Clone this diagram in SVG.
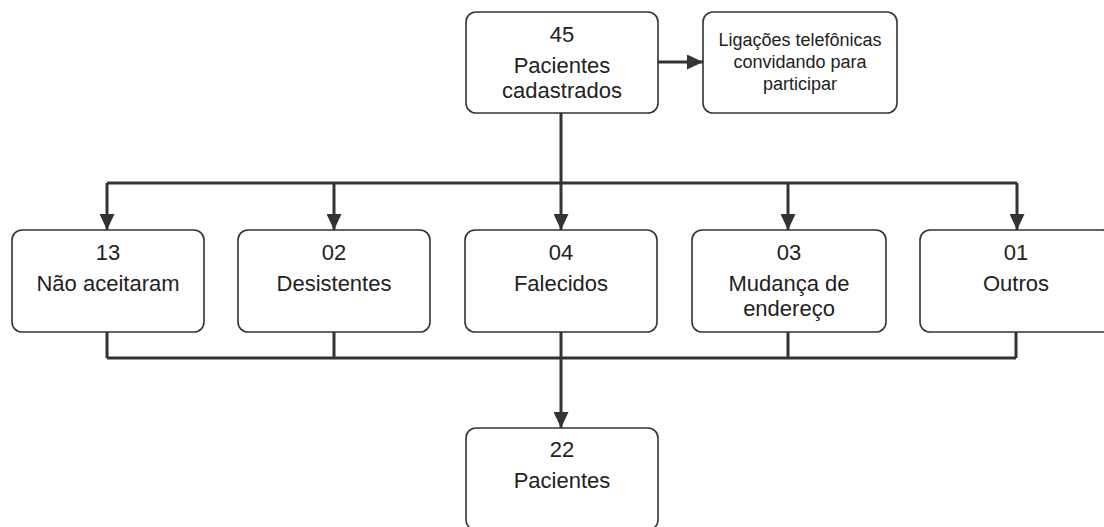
<svg xmlns="http://www.w3.org/2000/svg" width="1104" height="527" viewBox="0 0 1104 527">
<style>
.box{fill:#fff;stroke:#333;stroke-width:1.6}
.t{font-family:"Liberation Sans",Arial,sans-serif;font-size:22px;fill:#222;text-anchor:middle}
.ts{font-family:"Liberation Sans",Arial,sans-serif;font-size:18px;fill:#222;text-anchor:middle}
.c{fill:none;stroke:#333;stroke-width:3}
</style>
<defs>
<marker id="ah" markerUnits="userSpaceOnUse" markerWidth="16" markerHeight="15" refX="16" refY="7.5" orient="auto">
<path d="M0,0 L16,7.5 L0,15 Z" fill="#333"/>
</marker>
</defs>
<rect width="1104" height="527" fill="#fff"/>
<g id="connectors">
<path class="c" d="M658,62 H703" marker-end="url(#ah)"/>
<path class="c" d="M561,113 V183"/>
<path class="c" d="M107,183 H1017"/>
<path class="c" d="M107,183 V230" marker-end="url(#ah)"/>
<path class="c" d="M334,183 V230" marker-end="url(#ah)"/>
<path class="c" d="M561,183 V230" marker-end="url(#ah)"/>
<path class="c" d="M788,183 V230" marker-end="url(#ah)"/>
<path class="c" d="M1017,183 V230" marker-end="url(#ah)"/>
<path class="c" d="M107,332 V358 M334,332 V358 M788,332 V358 M1016,332 V358"/>
<path class="c" d="M107,358 H1016"/>
<path class="c" d="M561,332 V428" marker-end="url(#ah)"/>
</g>
<g id="n45">
<rect class="box" x="466" y="12" width="192" height="101" rx="10"/>
<text class="t" x="562" y="42">45</text>
<text class="t" x="562" y="73">Pacientes</text>
<text class="t" x="562" y="98">cadastrados</text>
</g>
<g id="nlig">
<rect class="box" x="703" y="12" width="194" height="101" rx="10"/>
<text class="ts" x="800" y="46">Ligações telefônicas</text>
<text class="ts" x="800" y="68">convidando para</text>
<text class="ts" x="800" y="90">participar</text>
</g>
<g id="n13">
<rect class="box" x="12" y="230" width="192" height="102" rx="10"/>
<text class="t" x="108" y="260">13</text>
<text class="t" x="108" y="291">Não aceitaram</text>
</g>
<g id="n02">
<rect class="box" x="238" y="230" width="192" height="102" rx="10"/>
<text class="t" x="334" y="260">02</text>
<text class="t" x="334" y="291">Desistentes</text>
</g>
<g id="n04">
<rect class="box" x="465" y="230" width="192" height="102" rx="10"/>
<text class="t" x="561" y="260">04</text>
<text class="t" x="561" y="291">Falecidos</text>
</g>
<g id="n03">
<rect class="box" x="692" y="230" width="194" height="102" rx="10"/>
<text class="t" x="789" y="260">03</text>
<text class="t" x="789" y="291">Mudança de</text>
<text class="t" x="789" y="316">endereço</text>
</g>
<g id="n01">
<rect class="box" x="920" y="230" width="192" height="102" rx="10"/>
<text class="t" x="1016" y="260">01</text>
<text class="t" x="1016" y="291">Outros</text>
</g>
<g id="n22">
<rect class="box" x="466" y="428" width="192" height="102" rx="10"/>
<text class="t" x="562" y="457">22</text>
<text class="t" x="562" y="488">Pacientes</text>
</g>
</svg>
